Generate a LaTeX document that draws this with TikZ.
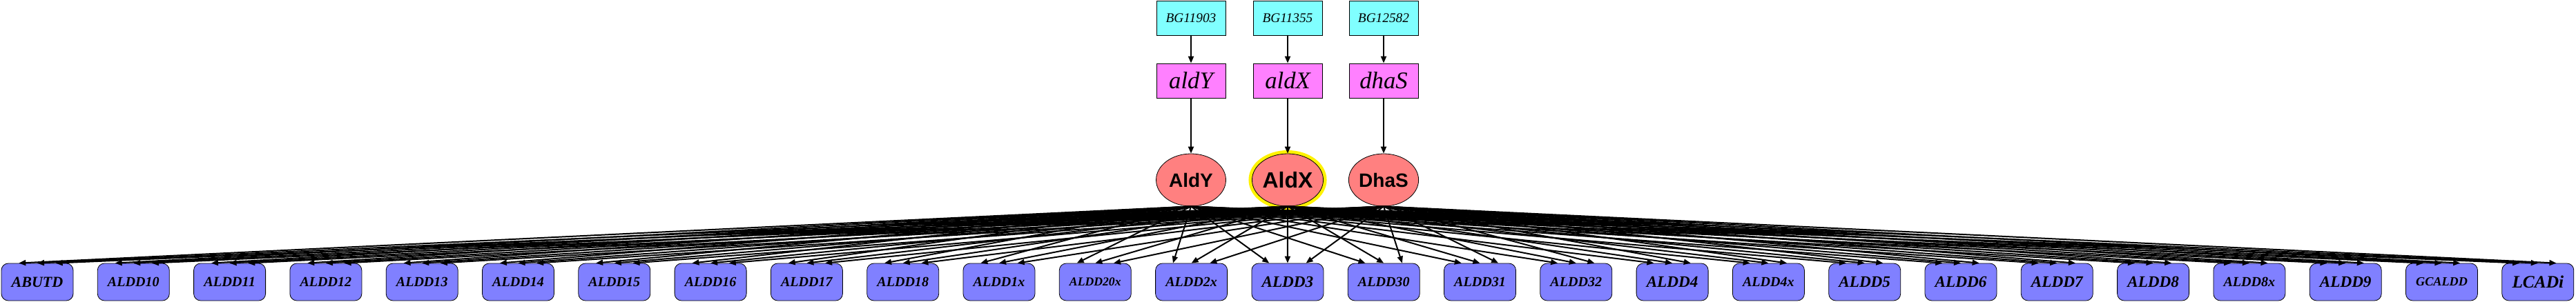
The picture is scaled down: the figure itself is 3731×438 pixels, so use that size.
\documentclass[tikz,border=0pt]{standalone}
\usepackage{fontspec,graphicx}
\setmainfont{Liberation Serif}
\setsansfont{Liberation Sans}
\usetikzlibrary{arrows.meta,shapes.geometric}
\definecolor{bgcyan}{HTML}{80FFFF}
\definecolor{genepink}{HTML}{FF80FF}
\definecolor{protred}{HTML}{FF8080}
\definecolor{rxnblue}{HTML}{8080FF}
\newcommand{\rxnlabel}[1]{\resizebox{56pt}{!}{\bfseries\itshape #1}}
\newcommand{\rxnlist}{ABUTD,ALDD10,ALDD11,ALDD12,ALDD13,ALDD14,ALDD15,ALDD16,ALDD17,ALDD18,ALDD1x,ALDD20x,ALDD2x,ALDD3,ALDD30,ALDD31,ALDD32,ALDD4,ALDD4x,ALDD5,ALDD6,ALDD7,ALDD8,ALDD8x,ALDD9,GCALDD,LCADi}

\begin{document}
\begin{tikzpicture}[x=0.75pt,y=-0.75pt,
  bgbox/.style={draw,line width=0.6pt,fill=bgcyan,minimum width=75pt,minimum height=37.5pt,inner sep=0pt,font=\itshape\fontsize{14.5}{16}\selectfont},
  genebox/.style={draw,line width=0.6pt,fill=genepink,minimum width=75pt,minimum height=37.5pt,inner sep=0pt,font=\itshape\fontsize{26}{28}\selectfont},
  prot/.style={draw,line width=0.6pt,ellipse,fill=protred,minimum width=75.75pt,minimum height=57pt,inner sep=0pt,font=\sffamily\bfseries\fontsize{21}{24}\selectfont},
  rxnbox/.style={draw,line width=0.6pt,fill=rxnblue,rounded corners=7.5pt,minimum width=78pt,minimum height=40.5pt,inner sep=0pt},
  link/.style={line width=1.5pt,-{Triangle[length=7.5pt,width=6pt]}}]
  \useasboundingbox (0,0) rectangle (3731,438);
  \node[bgbox] (bgY) at (1725,26) {BG11903};
  \node[bgbox] (bgX) at (1865,26) {BG11355};
  \node[bgbox] (bgS) at (2004,26) {BG12582};
  \node[genebox] (aldY) at (1725,117) {aldY};
  \node[genebox] (aldX) at (1865,117) {aldX};
  \node[genebox] (dhaS) at (2004,117) {dhaS};
  \node[prot] (AldY) at (1725,261) {AldY};
  \node[prot,preaction={draw=yellow,line width=7.5pt},font=\sffamily\bfseries\fontsize{24}{26}\selectfont] (AldX) at (1865,261) {AldX};
  \node[prot] (DhaS) at (2004,261) {DhaS};
  \draw[link] (bgY) -- (aldY);
  \draw[link] (bgX) -- (aldX);
  \draw[link] (bgS) -- (dhaS);
  \draw[link] (aldY) -- (AldY);
  \draw[link] (aldX) -- (AldX);
  \draw[link] (dhaS) -- (DhaS);
  \foreach \r [count=\i from 0] in \rxnlist
    \node[rxnbox] (\r) at ({54+139.3*\i},409) {\rxnlabel{\r}};
  \foreach \r in \rxnlist {
    \draw[link] (AldY.south) -- ([xshift=-20pt]\r.north);
    \draw[link] (AldX.south) -- (\r.north);
    \draw[link] (DhaS.south) -- ([xshift=20pt]\r.north);
  }
\end{tikzpicture}
\end{document}
